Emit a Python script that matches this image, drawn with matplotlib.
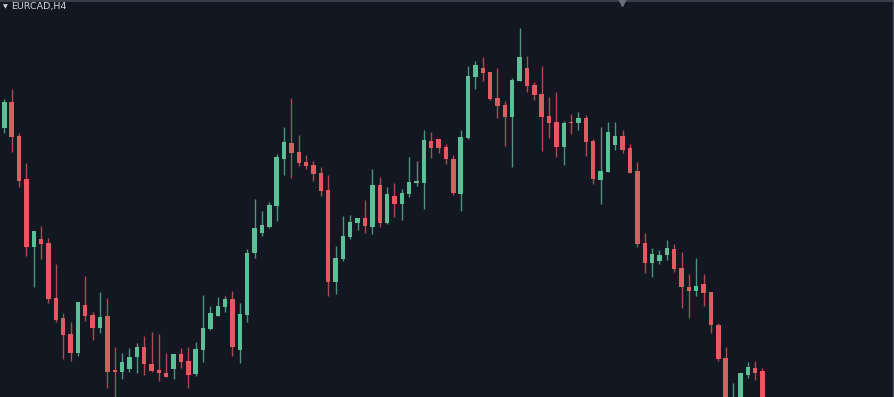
import numpy as np
import matplotlib
matplotlib.use("Agg")
import matplotlib.pyplot as plt

# EURCAD H4 candles
opens = [1.4672, 1.4698, 1.4664, 1.4621, 1.4553, 1.4561, 1.4557, 1.4502, 1.4482, 1.4466,
         1.4447, 1.4495, 1.4485, 1.4472, 1.4484, 1.4430, 1.4428, 1.4431, 1.4443, 1.4453,
         1.4436, 1.4430, 1.4427, 1.4431, 1.4446, 1.4439, 1.4426, 1.4450, 1.4471, 1.4484,
         1.4493, 1.4501, 1.4450, 1.4485, 1.4547, 1.4567, 1.4573, 1.4594, 1.4641, 1.4657,
         1.4648, 1.4638, 1.4635, 1.4627, 1.4610, 1.4518, 1.4541, 1.4563, 1.4577, 1.4582,
         1.4573, 1.4615, 1.4577, 1.4604, 1.4596, 1.4606, 1.4617, 1.4617, 1.4659, 1.4661,
         1.4653, 1.4641, 1.4606, 1.4662, 1.4723, 1.4732, 1.4728, 1.4702, 1.4695, 1.4683,
         1.4719, 1.4732, 1.4715, 1.4706, 1.4684, 1.4678, 1.4653, 1.4678, 1.4677, 1.4682,
         1.4659, 1.4620, 1.4628, 1.4655, 1.4664, 1.4652, 1.4629, 1.4557, 1.4537, 1.4539,
         1.4545, 1.4551, 1.4532, 1.4513, 1.4509, 1.4516, 1.4508, 1.4475, 1.4442, 1.4388,
         1.4395, 1.4425, 1.4432, 1.4429]
highs = [1.4701, 1.4711, 1.4667, 1.4637, 1.4569, 1.4574, 1.4562, 1.4536, 1.4487, 1.4478,
         1.4498, 1.4524, 1.4488, 1.4508, 1.4502, 1.4453, 1.4447, 1.4452, 1.4457, 1.4464,
         1.4468, 1.4466, 1.4447, 1.4446, 1.4452, 1.4453, 1.4458, 1.4505, 1.4494, 1.4503,
         1.4504, 1.4509, 1.4497, 1.4551, 1.4601, 1.4589, 1.4598, 1.4646, 1.4673, 1.4702,
         1.4665, 1.4645, 1.4639, 1.4633, 1.4625, 1.4554, 1.4584, 1.4585, 1.4582, 1.4600,
         1.4631, 1.4623, 1.4613, 1.4617, 1.4611, 1.4643, 1.4639, 1.4670, 1.4668, 1.4661,
         1.4656, 1.4645, 1.4670, 1.4734, 1.4739, 1.4743, 1.4728, 1.4732, 1.4699, 1.4722,
         1.4772, 1.4744, 1.4718, 1.4734, 1.4703, 1.4708, 1.4679, 1.4686, 1.4688, 1.4685,
         1.4661, 1.4673, 1.4678, 1.4678, 1.4670, 1.4656, 1.4638, 1.4567, 1.4552, 1.4550,
         1.4560, 1.4556, 1.4548, 1.4526, 1.4542, 1.4526, 1.4508, 1.4477, 1.4453, 1.4417,
         1.4427, 1.4438, 1.4439, 1.4432]
lows = [1.4667, 1.4648, 1.4613, 1.4544, 1.4513, 1.4541, 1.4497, 1.4478, 1.4441, 1.4439,
        1.4444, 1.4479, 1.4460, 1.4467, 1.4412, 1.4398, 1.4421, 1.4428, 1.4427, 1.4425,
        1.4428, 1.4419, 1.4423, 1.4421, 1.4432, 1.4412, 1.4424, 1.4438, 1.4470, 1.4484,
        1.4488, 1.4444, 1.4437, 1.4478, 1.4542, 1.4564, 1.4572, 1.4579, 1.4625, 1.4622,
        1.4634, 1.4631, 1.4619, 1.4604, 1.4504, 1.4506, 1.4539, 1.4561, 1.4570, 1.4567,
        1.4566, 1.4573, 1.4576, 1.4583, 1.4580, 1.4603, 1.4614, 1.4591, 1.4642, 1.4647,
        1.4636, 1.4605, 1.4589, 1.4661, 1.4711, 1.4719, 1.4700, 1.4682, 1.4654, 1.4633,
        1.4719, 1.4708, 1.4700, 1.4649, 1.4662, 1.4643, 1.4635, 1.4666, 1.4670, 1.4644,
        1.4616, 1.4596, 1.4628, 1.4650, 1.4647, 1.4627, 1.4553, 1.4527, 1.4523, 1.4536,
        1.4540, 1.4528, 1.4492, 1.4482, 1.4504, 1.4494, 1.4467, 1.4439, 1.4388, 1.4382,
        1.4390, 1.4422, 1.4420, 1.4388]
closes = [1.4698, 1.4663, 1.4619, 1.4553, 1.4569, 1.4556, 1.4501, 1.4480, 1.4465, 1.4447,
          1.4498, 1.4484, 1.4472, 1.4483, 1.4428, 1.4428, 1.4438, 1.4443, 1.4453, 1.4436,
          1.4429, 1.4427, 1.4423, 1.4446, 1.4438, 1.4425, 1.4451, 1.4472, 1.4487, 1.4494,
          1.4501, 1.4453, 1.4486, 1.4547, 1.4572, 1.4575, 1.4595, 1.4643, 1.4658, 1.4647,
          1.4637, 1.4634, 1.4626, 1.4609, 1.4518, 1.4542, 1.4564, 1.4578, 1.4582, 1.4574,
          1.4615, 1.4577, 1.4606, 1.4596, 1.4607, 1.4618, 1.4619, 1.4660, 1.4652, 1.4652,
          1.4641, 1.4607, 1.4663, 1.4724, 1.4735, 1.4727, 1.4701, 1.4694, 1.4683, 1.4720,
          1.4743, 1.4714, 1.4705, 1.4683, 1.4677, 1.4653, 1.4677, 1.4677, 1.4682, 1.4658,
          1.4621, 1.4629, 1.4668, 1.4664, 1.4650, 1.4627, 1.4556, 1.4537, 1.4546, 1.4545,
          1.4552, 1.4531, 1.4513, 1.4509, 1.4514, 1.4507, 1.4475, 1.4441, 1.4395, 1.4400,
          1.4427, 1.4433, 1.4427, 1.4395]

symbol = "EURCAD,H4"

bg = "#131722"
up_col = "#5cbf98"
dn_col = "#e05a62"

o = np.array(opens); h = np.array(highs); l = np.array(lows); c = np.array(closes)
x = np.arange(len(o))
up = c >= o
cols = np.where(up, up_col, dn_col)

fig = plt.figure(figsize=(8.95, 3.97), dpi=100, facecolor=bg)
ax = fig.add_axes([0, 0, 1, 1])
ax.set_facecolor(bg)

# wicks
ax.vlines(x, l, h, colors=cols, linewidth=1.0, alpha=0.75, zorder=2)
# bodies
body_lo = np.minimum(o, c)
body_h = np.maximum(np.abs(c - o), 0.00012)
ax.bar(x, body_h, bottom=body_lo, width=0.6, color=cols, linewidth=0, zorder=3)

ax.set_xlim(-0.584, 121.0)
ax.set_ylim(1.4403, 1.4800)
ax.axis("off")

# frame bits from the platform
ax.axhline(1.4800, color="#3b3f4b", linewidth=2.0, zorder=5)
ax.plot([0.9978, 0.9978], [0, 1], color="#4a4e5a", linewidth=1.0,
        transform=ax.transAxes, zorder=5)
ax.plot([0.695], [0.995], marker="v", markersize=6, color="#6a6e7a",
        transform=ax.transAxes, clip_on=False, zorder=6)

# symbol label
fig.text(0.0035, 0.984, "\u25bc", color="#d1d4dc", fontsize=4.5, va="center", ha="left")
fig.text(0.012, 0.984, symbol, color="#d1d4dc", fontsize=6.8, va="center", ha="left")

fig.savefig("out.png", dpi=100, facecolor=bg)
